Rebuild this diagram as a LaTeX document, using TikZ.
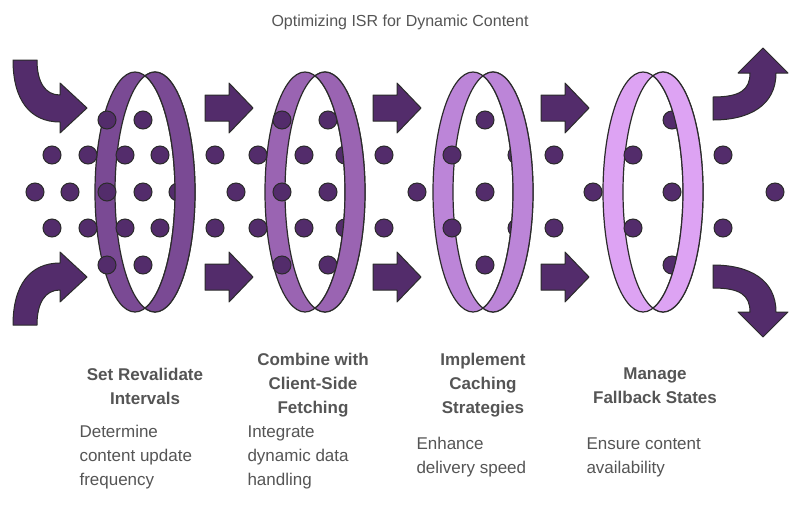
\documentclass[tikz,border=0pt]{standalone}
\usepackage{fontspec}
\setmainfont{Liberation Sans}
\definecolor{dotc}{HTML}{532C6B}
\definecolor{edge}{HTML}{2B2B2B}
\definecolor{rA}{HTML}{7A4A94}
\definecolor{rB}{HTML}{9A64B2}
\definecolor{rC}{HTML}{BC85D8}
\definecolor{rD}{HTML}{DDA3F3}
\definecolor{txt}{HTML}{555555}
\newcommand\myring[2]{%
  \fill[#2,even odd rule] (#1-10,192) ellipse [x radius=40,y radius=120] (#1+10,192) ellipse [x radius=40,y radius=120];
  \draw[edge,line width=1.2] (#1-10,192) ellipse [x radius=40,y radius=120] (#1+10,192) ellipse [x radius=40,y radius=120];}
\newcommand\myringfront[2]{%
  \begin{scope}
  \clip (#1,60) rectangle (#1+60,330);
  \myring{#1}{#2}
  \end{scope}}
\begin{document}
\begin{tikzpicture}[x=1pt,y=-1pt,
  dotst/.style={fill=dotc,draw=edge,line width=1},
  arr/.style={fill=dotc,draw=edge,line width=1,line join=round},
  head/.style={font=\bfseries\fontsize{17}{24}\selectfont,text=txt,align=center},
  desc/.style={font=\fontsize{17}{24}\selectfont,text=txt,align=left,anchor=north west}]
\useasboundingbox[fill=white] (0,0) rectangle (800,507);
\node[font=\fontsize{16}{20}\selectfont,text=txt] (title) at (400,22) {Optimizing ISR for Dynamic Content};
% rings back
\myring{145}{rA}
\myring{315}{rB}
\myring{483}{rC}
\myring{653}{rD}
% dots
\foreach \p in {(107,120),(143,120),(52,155),(88,155),(125,155),(160,155),(35,192),(70,192),(107,192),(143,192),(178,192),(52,228),(88,228),(125,228),(160,228),(107,265),(143,265),
(215,155),(258,155),(304,155),(345,155),(236,192),(282,192),(328,192),(215,228),(258,228),(304,228),(345,228),(282,120),(328,120),(282,265),(328,265),
(384,155),(452,155),(517,155),(417,192),(485,192),(384,228),(452,228),(517,228),(485,120),(485,265),
(554,155),(633,155),(723,155),(593,192),(672,192),(775,192),(554,228),(633,228),(723,228),(672,120),(672,265)}
  \draw[dotst] \p circle [radius=9];
% rings front bands
\myringfront{145}{rA}
\myringfront{315}{rB}
\myringfront{483}{rC}
\myringfront{653}{rD}
% straight arrows
\foreach \x in {205,373,541}{
 \foreach \cy in {108,277}{
  \draw[arr] (\x,\cy-13)--(\x+24,\cy-13)--(\x+24,\cy-25)--(\x+48,\cy)--(\x+24,\cy+25)--(\x+24,\cy+13)--(\x,\cy+13)--cycle;}}
% curved arrows
\draw[arr] (13,60)--(37,60) .. controls (37,82) and (45,95) .. (60,95) -- (60,83) -- (87,108) -- (60,133) -- (60,122) .. controls (30,122) and (13,100) .. (13,60) -- cycle;
\draw[arr] (13,325)--(37,325) .. controls (37,303) and (45,290) .. (60,290) -- (60,302) -- (87,277) -- (60,252) -- (60,263) .. controls (30,263) and (13,285) .. (13,325) -- cycle;
\draw[arr] (713,97) .. controls (740,97) and (750,90) .. (750,73) -- (738,73) -- (763,48) -- (788,73) -- (776,73) .. controls (776,105) and (750,120) .. (713,120) -- cycle;
\draw[arr] (713,288) .. controls (740,288) and (750,295) .. (750,312) -- (738,312) -- (763,337) -- (788,312) -- (776,312) .. controls (776,280) and (750,265) .. (713,265) -- cycle;
% labels
\node[head] (h1) at (145,386) {Set Revalidate\\Intervals};
\node[head] (h2) at (313,385) {Combine with\\Client-Side\\Fetching};
\node[head] (h3) at (483,385) {Implement\\Caching\\Strategies};
\node[head] (h4) at (655,386) {Manage\\Fallback States};
\node[desc] (d1) at (76,422) {Determine\\content update\\frequency};
\node[desc] (d2) at (244,422) {Integrate\\dynamic data\\handling};
\node[desc] (d3) at (413,434) {Enhance\\delivery speed};
\node[desc] (d4) at (583,434) {Ensure content\\availability};
\end{tikzpicture}
\end{document}
